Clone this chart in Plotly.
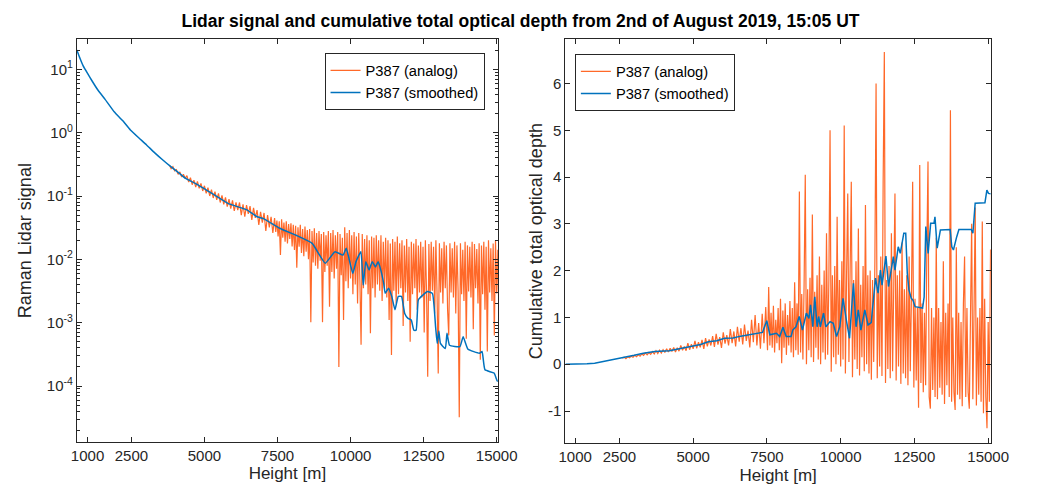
import numpy as np
import plotly.graph_objects as go

# ---------------- Left panel: Raman lidar signal ----------------
sig_smooth_h = [633, 743, 850, 1000, 1150, 1353, 1600, 1910, 2200, 2466, 2750, 3020, 3300, 3576,
                3850, 4133, 4353, 4686, 5353, 5800,
                6466, 6800, 7020, 7576, 8133, 8686, 9133, 9466, 9743, 9853, 10076, 10186,
                10353, 10433, 10520, 10633, 10743, 10853, 10943, 11020, 11133, 11186, 11300,
                11410, 11520, 11633, 11743, 11853, 11966, 12076, 12166, 12243, 12320, 12466,
                12633, 12800, 12910, 12966, 13020, 13076, 13243, 13300, 13386, 13743, 13853,
                14020, 14410, 14500, 14600, 14910, 15020, 15043]
sig_smooth = [20.2, 14.8, 11.3, 8.6, 6.6, 4.71, 3.35, 2.14, 1.55, 1.10, 0.83, 0.64, 0.48, 0.37,
              0.29, 0.23, 0.19, 0.158, 0.103, 0.0766,
              0.060, 0.047, 0.044, 0.031, 0.024, 0.0179, 0.0087, 0.0132, 0.0117, 0.0149, 0.0060,
              0.0092, 0.0132, 0.0039, 0.0092, 0.0068, 0.0092, 0.0076, 0.0092, 0.0072, 0.0042,
              0.0029, 0.0035, 0.0026, 0.0016, 0.0026, 0.0026, 0.0014, 0.00117, 0.0011, 0.00076,
              0.00076, 0.0023, 0.0027, 0.0031, 0.0029, 0.00086, 0.00047, 0.00074, 0.00047,
              0.00039, 0.00068, 0.00044, 0.00042, 0.0006, 0.00038, 0.00033, 0.00035, 0.00018,
              0.00016, 0.00012, 0.00012]

# analog signal, low-noise part: 3800 m .. 7340 m every 60 m
sig_analog_lo = [
    0.31, 0.27, 0.29, 0.25, 0.26, 0.22, 0.24, 0.20, 0.22, 0.19,
    0.21, 0.166, 0.195, 0.151, 0.178, 0.138, 0.17, 0.132, 0.158, 0.12,
    0.145, 0.11, 0.135, 0.10, 0.126, 0.093, 0.117, 0.087, 0.11, 0.079,
    0.102, 0.074, 0.095, 0.068, 0.089, 0.063, 0.085, 0.058, 0.079, 0.060,
    0.079, 0.050, 0.074, 0.047, 0.072, 0.052, 0.069, 0.042, 0.065, 0.045,
    0.060, 0.035, 0.056, 0.038, 0.054, 0.028, 0.050, 0.032, 0.047, 0.026,
]
# analog signal, noisy part: 7400 m .. 15080 m every 40 m
sig_analog_hi = [
    0.045, 0.027, 0.041, 0.023, 0.040, 0.0117, 0.043, 0.022, 0.038, 0.019,
    0.040, 0.0178, 0.036, 0.021, 0.037, 0.016, 0.035, 0.014, 0.034, 0.0074,
    0.032, 0.0158, 0.035, 0.0126, 0.030, 0.0112, 0.033, 0.0132, 0.029, 0.010,
    0.030, 0.00102, 0.028, 0.0089, 0.031, 0.0079, 0.026, 0.0071, 0.028, 0.0095,
    0.025, 0.00102, 0.027, 0.0063, 0.024, 0.0079, 0.028, 0.00178, 0.026, 0.0063,
    0.029, 0.0050, 0.024, 0.0071, 0.027, 0.0002, 0.025, 0.0056, 0.022, 0.0011,
    0.032, 0.0045, 0.026, 0.0035, 0.029, 0.0050, 0.024, 0.0028, 0.027, 0.0040,
    0.023, 0.0020, 0.026, 0.0045, 0.00045, 0.025, 0.0035, 0.021, 0.0040, 0.024,
    0.0028, 0.020, 0.00068, 0.023, 0.0035, 0.022, 0.0025, 0.024, 0.0040, 0.020,
    0.0032, 0.024, 0.0022, 0.019, 0.0035, 0.022, 0.0025, 0.020, 0.0011, 0.0178,
    0.00031, 0.021, 0.0032, 0.019, 0.0020, 0.023, 0.0028, 0.018, 0.0035, 0.020,
    0.00089, 0.0166, 0.0030, 0.021, 0.0022, 0.0158, 0.0005, 0.019, 0.0028, 0.0178,
    0.0035, 0.021, 0.0016, 0.0166, 0.0030, 0.019, 0.0025, 0.0158, 0.0007, 0.020,
    0.0030, 0.00014, 0.0174, 0.0022, 0.019, 0.0032, 0.0158, 0.0014, 0.020, 0.0028,
    0.000158, 0.018, 0.0030, 0.0150, 0.0020, 0.019, 0.0035, 0.0166, 0.0016, 0.00063,
    0.018, 0.0030, 0.0150, 0.0025, 0.019, 0.0014, 0.0166, 0.0032, 0.000032, 0.018,
    0.0028, 0.0141, 0.0022, 0.019, 0.00056, 0.0166, 0.0031, 0.0158, 0.0025, 0.019,
    0.00079, 0.0174, 0.0035, 0.0145, 0.0020, 0.018, 0.00026, 0.0166, 0.0028, 0.019,
    0.0016, 0.0158, 0.00035, 0.020, 0.0030, 0.0150, 0.0022, 0.0178, 0.00063, 0.020,
    0.0029, 0.0141, 0.0010,
]

# ---------------- Right panel: cumulative optical depth ----------------
od_smooth_h = [670, 1000, 1400, 1660, 2000, 2542, 3000, 3311, 3700, 4193, 4600, 4962, 5250,
               5513, 5800, 6064, 6350, 6612, 6900, 7164, 7350, 7494, 7600, 7824, 7933, 8043,
               8154, 8318, 8375, 8484, 8594, 8704, 8836, 8924, 8979, 9055, 9122, 9201, 9254,
               9310, 9419, 9498, 9640, 9749, 9861, 9970, 10079, 10191, 10300, 10432, 10521,
               10597, 10686, 10818, 10927, 11036, 11125, 11181, 11268, 11347, 11402, 11534,
               11621, 11700, 11786, 11840, 11951, 12020, 12140, 12205, 12258, 12314, 12390,
               12450, 12522, 12776, 12830, 12886, 12965, 13050, 13163, 13196, 13271, 13381,
               13711, 13767, 13822, 13932, 14008, 14427, 14482, 14559, 14890, 14956, 15010,
               15087]
od_smooth = [0.00, 0.00, 0.01, 0.02, 0.06, 0.13, 0.19, 0.235, 0.27, 0.29, 0.34, 0.39, 0.42,
             0.48, 0.50, 0.555, 0.56, 0.60, 0.63, 0.66, 0.68, 0.93, 0.63, 0.66, 0.59, 0.79,
             0.59, 0.59, 0.73, 0.80, 1.02, 0.73, 1.09, 0.98, 1.27, 0.80, 1.44, 0.80, 1.02,
             0.80, 1.09, 0.80, 0.91, 0.875, 0.59, 0.80, 1.41, 0.95, 0.555, 1.73, 0.80,
             1.16, 0.73, 1.16, 0.84, 0.89, 1.44, 1.84, 1.52, 2.01, 1.69, 2.31,
             1.66, 1.94, 2.30, 2.01, 2.51, 2.37, 2.80, 2.80, 1.94, 1.59, 1.41,
             1.37, 1.23, 1.20, 1.44, 2.94, 2.37, 3.01, 3.01, 3.15, 2.48, 2.87,
             2.88, 2.51, 2.44, 2.72, 2.88, 2.88, 2.80, 3.44, 3.45, 3.72, 3.65,
             3.64]

# analog optical depth, low-noise part: 2600 m .. 7460 m every 60 m
od_analog_lo = [
    0.13, 0.15, 0.12, 0.16, 0.14, 0.17, 0.15, 0.19, 0.16, 0.20,
    0.17, 0.22, 0.19, 0.24, 0.20, 0.25, 0.21, 0.27, 0.22, 0.29,
    0.23, 0.30, 0.24, 0.31, 0.25, 0.33, 0.26, 0.34, 0.27, 0.36,
    0.26, 0.35, 0.28, 0.40, 0.30, 0.38, 0.29, 0.45, 0.31, 0.43,
    0.33, 0.50, 0.34, 0.47, 0.36, 0.52, 0.33, 0.56, 0.38, 0.53,
    0.40, 0.60, 0.37, 0.65, 0.42, 0.58, 0.35, 0.68, 0.44, 0.62,
    0.40, 0.75, 0.45, 0.70, 0.38, 0.80, 0.48, 0.77, 0.42, 0.85,
    0.50, 0.72, 0.36, 0.95, 0.47, 1.05, 0.40, 0.88, 0.33, 1.08,
    0.45, 1.22,
]
# analog optical depth, noisy part: 7520 m .. 15080 m every 40 m
od_analog_hi = [
    0.30, 1.65, 0.40, 1.10, 0.35, 1.25, 0.25, 0.95, 0.45, 1.20,
    0.30, 1.40, 0.02, 1.15, 0.35, 1.30, 0.20, 1.05, 0.40, 1.35,
    0.25, 1.20, 0.15, 1.75, 0.30, 1.30, 0.20, 3.69, 0.25, 1.50,
    0.10, 1.70, 4.05, 0.00, 1.60, 0.30, 1.85, 0.15, 3.20, 0.05,
    1.55, 0.35, 1.90, 0.10, 2.30, 0.00, 1.70, 0.25, 2.00, 0.10,
    2.80, 0.20, 1.80, 5.00, -0.16, 1.90, 0.15, 2.10, 0.00, 3.15,
    0.20, 1.80, -0.05, 2.20, 0.10, 5.10, -0.20, 1.90, 3.65, 0.05,
    2.00, 3.90, -0.28, 1.80, 0.10, 2.20, -0.10, 2.90, -0.24, 1.70,
    0.15, 2.10, -0.15, 3.40, 0.00, 1.90, -0.20, 2.00, -0.33, 1.80,
    0.05, 2.20, 6.00, -0.30, 1.90, -0.05, 2.30, -0.25, 3.90, 6.67,
    -0.40, 1.80, -0.10, 2.10, -0.30, 2.80, -0.15, 1.70, 3.65, -0.35,
    1.90, -0.05, 2.00, -0.42, 2.60, -0.20, 1.60, -0.30, 1.90, -0.45,
    2.30, -0.15, 1.50, 3.90, -0.50, 1.40, -0.35, 1.20, -0.93, 4.26,
    -0.40, 1.30, -0.60, 1.10, -0.45, 2.40, 4.33, -0.70, -0.95, 1.20,
    -0.55, 1.00, -0.70, 2.70, -0.75, 1.20, -0.50, 0.90, -0.65, 2.20,
    -0.85, 1.10, -0.45, 1.30, -0.70, 5.43, -0.80, 1.00, -0.60, -0.98,
    2.50, -0.65, 1.10, -0.75, 0.90, -0.90, 1.30, 2.30, -0.70, 1.20,
    -0.60, -0.95, 1.00, 3.00, -0.75, 1.10, 3.35, -0.88, 1.00, -0.65,
    1.20, -0.80, 3.05, -1.05, 1.40, -0.70, -1.37, 0.90, -0.80, 2.45,
]

x_ticks = [1000, 2500, 5000, 7500, 10000, 12500, 15000]
x_tick_text = ["1000", "2500", "5000", "7500", "10000", "12500", "15000"]
log_ticks = [1e-4, 1e-3, 1e-2, 1e-1, 1e0, 1e1]
log_tick_text = ["10<sup>-4</sup>", "10<sup>-3</sup>", "10<sup>-2</sup>",
                 "10<sup>-1</sup>", "10<sup>0</sup>", "10<sup>1</sup>"]
od_ticks = [-1, 0, 1, 2, 3, 4, 5, 6]
od_tick_text = ["-1", "0", "1", "2", "3", "4", "5", "6"]

ORANGE = "#FF6929"
BLUE = "#0072BD"
AX = "#262626"
FONT = "Liberation Sans, Arial, sans-serif"

# height grids of the analog profiles
sig_analog_h = np.concatenate([3800 + 60 * np.arange(len(sig_analog_lo)),
                               7400 + 40 * np.arange(len(sig_analog_hi))])
sig_analog = sig_analog_lo + sig_analog_hi
od_analog_h = np.concatenate([2600 + 60 * np.arange(len(od_analog_lo)),
                              7520 + 40 * np.arange(len(od_analog_hi))])
od_analog = od_analog_lo + od_analog_hi

fig = go.Figure()
fig.add_trace(go.Scatter(x=sig_analog_h, y=sig_analog, mode="lines", name="P387 (analog)",
                         line=dict(color=ORANGE, width=1.2, simplify=False),
                         xaxis="x", yaxis="y", legend="legend"))
fig.add_trace(go.Scatter(x=sig_smooth_h, y=sig_smooth, mode="lines", name="P387 (smoothed)",
                         line=dict(color=BLUE, width=1.5, shape="spline", smoothing=0.4),
                         xaxis="x", yaxis="y", legend="legend"))
fig.add_trace(go.Scatter(x=od_analog_h, y=od_analog, mode="lines", name="P387 (analog)",
                         line=dict(color=ORANGE, width=1.2, simplify=False),
                         xaxis="x2", yaxis="y2", legend="legend2"))
fig.add_trace(go.Scatter(x=od_smooth_h, y=od_smooth, mode="lines", name="P387 (smoothed)",
                         line=dict(color=BLUE, width=1.5), xaxis="x2", yaxis="y2", legend="legend2"))

minor_log = [m * 10.0 ** e for e in range(-5, 2) for m in range(2, 10)]

common_ax = dict(showline=True, linecolor=AX, linewidth=1, mirror="allticks", ticks="inside",
                 ticklen=5, tickcolor=AX, showgrid=False, zeroline=False,
                 tickfont=dict(family=FONT, size=15, color=AX))

fig.update_layout(
    width=1041, height=491,
    margin=dict(l=0, r=0, t=0, b=0),
    paper_bgcolor="white", plot_bgcolor="white",
    font=dict(family=FONT, color=AX),
    title=dict(text="<b>Lidar signal and cumulative total optical depth from 2nd of August 2019, 15:05 UT</b>",
               x=0.5, xanchor="center", y=1 - 21 / 491, yanchor="middle",
               font=dict(family=FONT, size=17.5, color="black")),
    xaxis=dict(domain=[71.7 / 1041, 504 / 1041], range=[633, 15043], anchor="y",
               tickmode="array", tickvals=x_ticks, ticktext=x_tick_text,
               title=dict(text="Height [m]", font=dict(size=17, family=FONT, color=AX), standoff=4),
               **common_ax),
    yaxis=dict(domain=[1 - 442 / 491, 1 - 39.3 / 491], type="log", range=[-4.884, 1.474],
               anchor="x", tickmode="array", tickvals=log_ticks, ticktext=log_tick_text,
               minor=dict(tickmode="array", tickvals=minor_log, ticks="inside", ticklen=3,
                          tickcolor=AX, showgrid=False),
               title=dict(text="Raman Lidar signal", font=dict(size=18, family=FONT, color=AX), standoff=10),
               **common_ax),
    xaxis2=dict(domain=[573.3 / 1041, 1010 / 1041], range=[670, 15089], anchor="y2",
                tickmode="array", tickvals=x_ticks, ticktext=x_tick_text,
                title=dict(text="Height [m]", font=dict(size=17, family=FONT, color=AX), standoff=4),
                **common_ax),
    yaxis2=dict(domain=[1 - 443.3 / 491, 1 - 39 / 491], range=[-1.69, 6.95], anchor="x2",
                tickmode="array", tickvals=od_ticks, ticktext=od_tick_text,
                title=dict(text="Cumulative total optical depth", font=dict(size=18, family=FONT, color=AX), standoff=0),
                **common_ax),
    legend=dict(x=326 / 1041, y=1 - 53.3 / 491, xanchor="left", yanchor="top",
                bgcolor="white", bordercolor=AX, borderwidth=1,
                font=dict(family=FONT, size=14.7, color="black"), itemwidth=30,
                tracegroupgap=0),
    legend2=dict(x=583 / 1041, y=1 - 54.3 / 491, xanchor="left", yanchor="top",
                 bgcolor="white", bordercolor=AX, borderwidth=1,
                 font=dict(family=FONT, size=14.7, color="black"), itemwidth=30,
                 tracegroupgap=0),
    showlegend=True,
)

fig.write_html("out.html", config={"displayModeBar": False},
               post_script="document.body.style.margin='0px';")
